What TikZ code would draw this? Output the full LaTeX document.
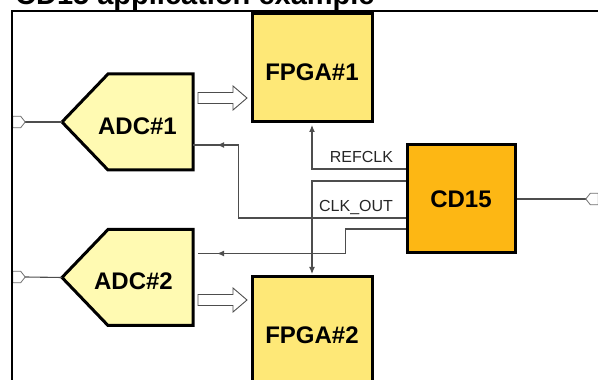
\documentclass[tikz,border=0pt]{standalone}
\usepackage{fontspec}
\setmainfont{Liberation Sans}
\setsansfont{Liberation Sans}
\usepackage{tikz}
\usetikzlibrary{arrows.meta, positioning, calc, backgrounds}
\definecolor{FpgaFill}{HTML}{FEE877}
\definecolor{AdcFill}{HTML}{FFFAB2}
\definecolor{ClkFill}{HTML}{FDB714}
\definecolor{WireInk}{HTML}{4D4D4D}
\definecolor{PinInk}{HTML}{707070}
\newcommand{\hollowarrow}[1]{%
  \draw[fat] ([yshift=5.5pt]#1) -- ++(35,0) -- ++(0,6.5) -- ++(14,-12)
    -- ++(-14,-12) -- ++(0,6.5) -- ++(-35,0) -- cycle;}
% pentagon body of an ADC node, pointing west
\newcommand{\adcshape}[1]{%
  \draw[adcline] (#1.west) -- ([xshift=46pt]#1.north west) -- (#1.north east)
    -- (#1.south east) -- ([xshift=46pt]#1.south west) -- cycle;}
% small connector pins
\newcommand{\pinright}[1]{%
  \draw[pinline] (#1.north west) -- ([xshift=-4.5pt]#1.north east) -- (#1.east)
    -- ([xshift=-4.5pt]#1.south east) -- (#1.south west) -- cycle;}
\newcommand{\pinleft}[1]{%
  \draw[pinline] (#1.north east) -- ([xshift=4.5pt]#1.north west) -- (#1.west)
    -- ([xshift=4.5pt]#1.south west) -- (#1.south east) -- cycle;}

\begin{document}
\begin{tikzpicture}[
    x=1pt, y=1pt,
    font=\sffamily,
    block/.style={
      draw=black,
      line width=3pt,
      inner sep=0pt,
      font=\sffamily\bfseries\fontsize{24}{28}\selectfont,
    },
    lowtext/.style={text height=25pt, text depth=0pt},
    fpgabox/.style={block, lowtext, rectangle, fill=FpgaFill,
      minimum width=120pt, minimum height=108pt},
    clkbox/.style={block, rectangle, fill=ClkFill,
      minimum width=108pt, minimum height=108pt},
    adcbox/.style={block, lowtext, draw=none, rectangle, outer sep=0pt,
      minimum width=131pt, minimum height=96pt},
    adcline/.style={draw=black, line width=3pt, line join=miter, fill=AdcFill},
    term/.style={rectangle, inner sep=0pt, minimum width=12pt,
      minimum height=11pt},
    pinline/.style={draw=PinInk, line width=0.8pt, fill=white},
    sig/.style={draw=WireInk, line width=1.1pt},
    sigtip/.style={-{Latex[length=7pt,width=6pt]}},
    fat/.style={draw=WireInk, line width=0.9pt, fill=white},
    siglbl/.style={font=\sffamily\fontsize{16}{18}\selectfont,
      text=black!85, inner sep=0pt, anchor=base east},
  ]
    \useasboundingbox (0,0) rectangle (598,380);
    \clip (0,0) rectangle (598,380);

    \node[font=\sffamily\bfseries\fontsize{29}{32}\selectfont,
      anchor=base west, inner sep=0pt] (title) at (15,375)
      {CD15 application example};
    \draw[line width=1.8pt] (12,-5) -- (12,369) -- (605,369);

    % blocks
    \node[fpgabox] (fpga1) at (312,312) {FPGA\#1};
    \node[fpgabox] (fpga2) at (312,49) {FPGA\#2};
    \node[clkbox] (cd15) at (461,181) {CD15};
    \node[adcbox] (adc1) at (127.5,258) {\hspace*{20pt}ADC\#1};
    \node[adcbox] (adc2) at (127.5,102.5) {\hspace*{12pt}ADC\#2};

    % pins
    \node[term] (in1) at (19,258) {};
    \node[term] (in2) at (19,103) {};
    \node[term] (out) at (592,181) {};

    % data paths
    \coordinate (a1) at ($(adc1.east)+(5,24)$);
    \coordinate (a2) at ($(adc2.east)+(5,-22.5)$);
    \hollowarrow{a1}
    \hollowarrow{a2}

    \begin{scope}[on background layer]
      \adcshape{adc1}
      \adcshape{adc2}
      \draw[sig] (in1.east) -- (adc1.west);
      \draw[sig] (in2.east) -- (adc2.west);
      \draw[sig] (cd15.east) -- (out.west);
      \pinright{in1}
      \pinright{in2}
      \pinleft{out}
      \draw[sig, sigtip, shorten >=1.5pt] ([yshift=30pt]cd15.west)
        node[siglbl, xshift=-12pt, yshift=6pt] {REFCLK} -| (fpga1.south);
      \draw[sig, sigtip, shorten >=1.5pt] ([yshift=18pt]cd15.west)
        -| (fpga2.north);
      \draw[sig] ([yshift=-19pt]cd15.west)
        node[siglbl, xshift=-12pt, yshift=6pt] {CLK\_OUT}
        -- ++(-167,0) |- ([yshift=-23pt]adc1.east);
      \draw[sig, sigtip] ([xshift=40pt,yshift=-23pt]adc1.east)
        -- ([xshift=24pt,yshift=-23pt]adc1.east);
      \draw[sig] ([yshift=-30pt]cd15.west)
        -- ++(-60,0) |- ([xshift=5pt,yshift=24pt]adc2.east);
      \draw[sig, sigtip] ([xshift=40pt,yshift=24pt]adc2.east)
        -- ([xshift=24pt,yshift=24pt]adc2.east);
    \end{scope}
  \end{tikzpicture}
\end{document}
